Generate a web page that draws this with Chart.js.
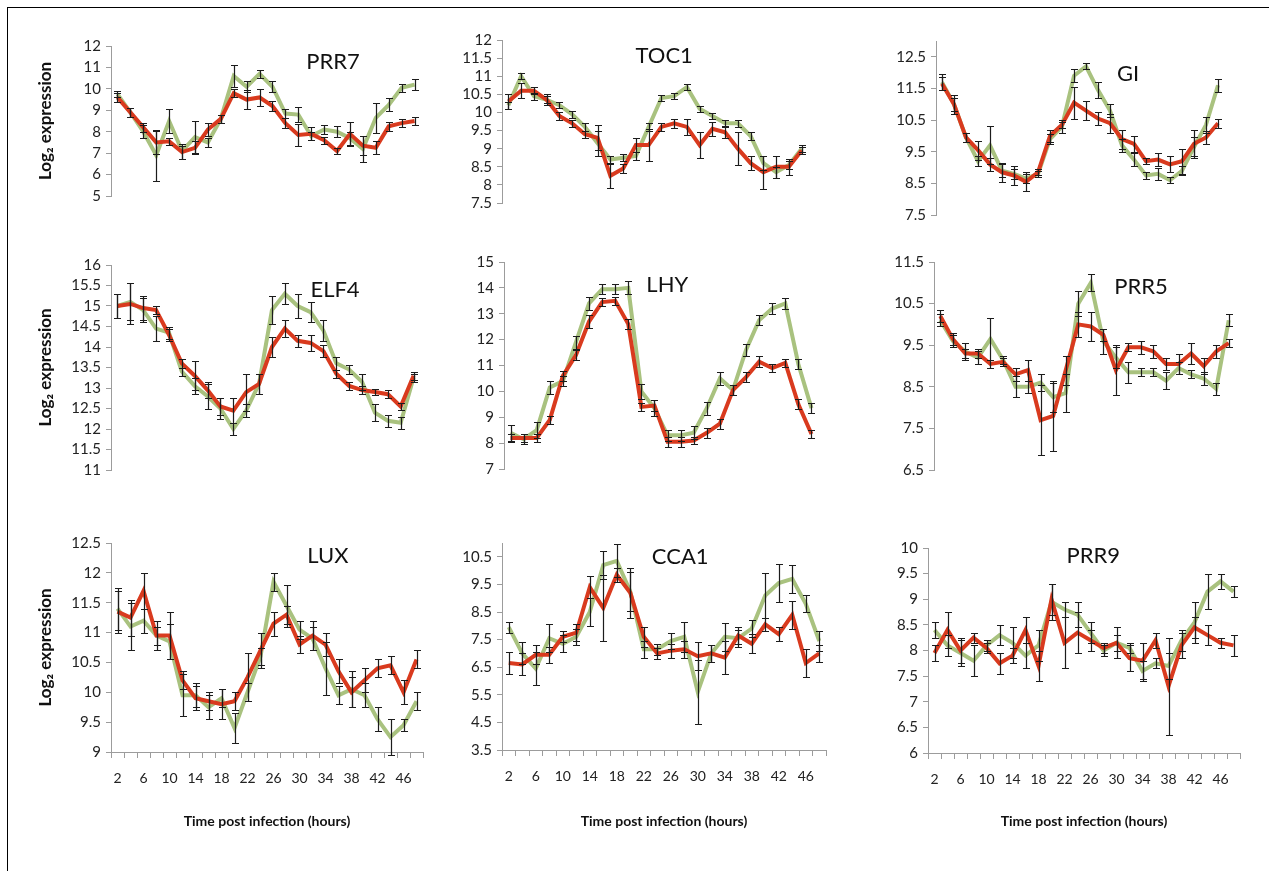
<!DOCTYPE html>
<html>
<head>
<meta charset="utf-8">
<script src="https://cdn.jsdelivr.net/npm/chart.js@4.4.1/dist/chart.umd.min.js"></script>
<style>
  body { margin: 0; background: #fff; width: 1269px; height: 871px; position: relative; overflow: hidden; }
  #frame { position: absolute; left: 7px; top: 7px; right: 0; bottom: 0; border-left: 1px solid #000; border-top: 1px solid #000; }
  .panel { position: absolute; }
</style>
</head>
<body>
<div id="frame"></div>
<script>
const hours = [2, 4, 6, 8, 10, 12, 14, 16, 18, 20, 22, 24, 26, 28, 30, 32, 34, 36, 38, 40, 42, 44, 46, 48];

// PRR7
const prr7Ticks = [5, 6, 7, 8, 9, 10, 11, 12];
const prr7Green = [9.75, 8.9, 8.0, 6.9, 8.5, 7.1, 7.75, 7.5, 8.6, 10.6, 10.1, 10.7, 10.1, 8.85, 8.8, 7.8, 8.1, 8.0, 7.7, 7.2, 8.65, 9.25, 10.05, 10.2];
const prr7GreenErr = [0.15, 0.2, 0.3, 1.2, 0.55, 0.35, 0.75, 0.2, 0.2, 0.5, 0.25, 0.2, 0.25, 0.2, 0.35, 0.2, 0.2, 0.25, 0.3, 0.6, 0.7, 0.3, 0.2, 0.25];
const prr7Red = [9.6, 8.9, 8.2, 7.5, 7.55, 7.05, 7.25, 8.1, 8.6, 9.8, 9.5, 9.6, 9.2, 8.4, 7.85, 7.9, 7.6, 7.1, 7.9, 7.35, 7.25, 8.25, 8.4, 8.5];
const prr7RedErr = [0.2, 0.2, 0.2, 0.55, 0.15, 0.3, 0.3, 0.3, 0.2, 0.2, 0.45, 0.4, 0.25, 0.25, 0.5, 0.3, 0.15, 0.15, 0.55, 0.45, 0.3, 0.2, 0.2, 0.2];

// TOC1
const toc1Ticks = [7.5, 8, 8.5, 9, 9.5, 10, 10.5, 11, 11.5, 12];
const toc1Green = [10.2, 11.0, 10.45, 10.35, 10.2, 9.95, 9.6, 9.15, 8.7, 8.75, 8.8, 9.6, 10.4, 10.45, 10.7, 10.1, 9.9, 9.7, 9.7, 9.35, 8.6, 8.35, 8.55, 9.0];
const toc1GreenErr = [0.1, 0.08, 0.1, 0.1, 0.08, 0.1, 0.1, 0.35, 0.1, 0.1, 0.1, 0.1, 0.08, 0.08, 0.08, 0.08, 0.08, 0.08, 0.1, 0.1, 0.2, 0.15, 0.1, 0.1];
const toc1Red = [10.3, 10.6, 10.6, 10.35, 9.9, 9.7, 9.4, 9.3, 8.25, 8.45, 9.1, 9.1, 9.6, 9.7, 9.6, 9.1, 9.55, 9.45, 9.0, 8.6, 8.35, 8.5, 8.5, 8.95];
const toc1RedErr = [0.2, 0.2, 0.1, 0.15, 0.1, 0.1, 0.1, 0.35, 0.33, 0.12, 0.2, 0.43, 0.12, 0.12, 0.23, 0.35, 0.2, 0.15, 0.45, 0.2, 0.45, 0.3, 0.22, 0.1];

// GI
const giTicks = [7.5, 8.5, 9.5, 10.5, 11.5, 12.5];
const giGreen = [11.7, 11.0, 9.95, 9.2, 9.7, 8.9, 8.8, 8.65, 8.8, 9.9, 10.3, 11.9, 12.2, 11.45, 10.8, 9.7, 9.25, 8.75, 8.8, 8.6, 8.9, 9.65, 10.35, 11.6];
const giGreenErr = [0.25, 0.2, 0.15, 0.15, 0.6, 0.2, 0.15, 0.15, 0.1, 0.15, 0.2, 0.2, 0.1, 0.25, 0.2, 0.2, 0.2, 0.1, 0.2, 0.1, 0.15, 0.3, 0.25, 0.2];
const giRed = [11.65, 11.0, 9.95, 9.55, 9.1, 8.85, 8.75, 8.55, 8.85, 10.0, 10.35, 11.05, 10.8, 10.55, 10.4, 9.9, 9.75, 9.2, 9.25, 9.1, 9.2, 9.75, 9.95, 10.4];
const giRedErr = [0.2, 0.3, 0.15, 0.3, 0.2, 0.3, 0.3, 0.3, 0.1, 0.2, 0.1, 0.5, 0.3, 0.2, 0.3, 0.3, 0.25, 0.1, 0.2, 0.25, 0.4, 0.45, 0.2, 0.15];

// ELF4
const elf4Ticks = [11, 11.5, 12, 12.5, 13, 13.5, 14, 14.5, 15, 15.5, 16];
const elf4Green = [15.0, 15.1, 14.9, 14.45, 14.35, 13.4, 13.05, 12.8, 12.5, 12.0, 12.45, 13.1, 14.9, 15.3, 15.0, 14.85, 14.4, 13.6, 13.45, 13.15, 12.4, 12.2, 12.15, 13.25];
const elf4GreenErr = [0.3, 0.45, 0.3, 0.3, 0.15, 0.1, 0.2, 0.3, 0.25, 0.15, 0.15, 0.25, 0.35, 0.25, 0.3, 0.25, 0.25, 0.15, 0.1, 0.2, 0.2, 0.15, 0.15, 0.1];
const elf4Red = [15.0, 15.05, 14.95, 14.9, 14.3, 13.6, 13.3, 12.95, 12.55, 12.45, 12.9, 13.1, 14.0, 14.45, 14.15, 14.1, 13.9, 13.35, 13.05, 12.95, 12.9, 12.85, 12.55, 13.3];
const elf4RedErr = [0.3, 0.5, 0.3, 0.1, 0.15, 0.1, 0.35, 0.2, 0.2, 0.3, 0.45, 0.25, 0.25, 0.2, 0.15, 0.2, 0.15, 0.1, 0.1, 0.1, 0.08, 0.1, 0.08, 0.1];

// LHY
const lhyTicks = [7, 8, 9, 10, 11, 12, 13, 14, 15];
const lhyGreen = [8.4, 8.15, 8.5, 10.15, 10.4, 11.9, 13.4, 13.95, 13.95, 14.0, 10.0, 9.35, 8.3, 8.3, 8.4, 9.35, 10.5, 10.05, 11.6, 12.75, 13.2, 13.4, 11.05, 9.35];
const lhyGreenErr = [0.3, 0.2, 0.3, 0.25, 0.2, 0.25, 0.25, 0.2, 0.2, 0.25, 0.3, 0.3, 0.2, 0.2, 0.25, 0.25, 0.25, 0.2, 0.25, 0.2, 0.2, 0.2, 0.2, 0.2];
const lhyRed = [8.2, 8.2, 8.2, 8.9, 10.6, 11.4, 12.7, 13.45, 13.5, 12.6, 9.4, 9.45, 8.05, 8.05, 8.1, 8.4, 8.75, 10.05, 10.55, 11.15, 10.9, 11.1, 9.5, 8.35];
const lhyRedErr = [0.15, 0.15, 0.15, 0.15, 0.2, 0.2, 0.25, 0.15, 0.15, 0.2, 0.15, 0.2, 0.2, 0.2, 0.15, 0.2, 0.2, 0.2, 0.2, 0.2, 0.15, 0.15, 0.2, 0.15];

// PRR5
const prr5Ticks = [6.5, 7.5, 8.5, 9.5, 10.5, 11.5];
const prr5Green = [10.1, 9.6, 9.35, 9.2, 9.65, 9.15, 8.5, 8.5, 8.6, 8.25, 8.35, 10.5, 11.0, 9.6, 9.2, 8.85, 8.85, 8.85, 8.65, 8.95, 8.8, 8.7, 8.45, 10.1];
const prr5GreenErr = [0.15, 0.15, 0.2, 0.15, 0.5, 0.1, 0.25, 0.15, 0.2, 0.35, 0.45, 0.3, 0.2, 0.3, 0.25, 0.25, 0.1, 0.1, 0.2, 0.15, 0.1, 0.15, 0.15, 0.15];
const prr5Red = [10.2, 9.65, 9.3, 9.3, 9.05, 9.1, 8.8, 8.9, 7.7, 7.8, 8.9, 10.0, 9.95, 9.75, 8.9, 9.45, 9.45, 9.35, 9.05, 9.05, 9.3, 9.0, 9.35, 9.55];
const prr5RedErr = [0.15, 0.15, 0.1, 0.1, 0.1, 0.1, 0.15, 0.25, 0.85, 0.85, 0.35, 0.3, 0.35, 0.15, 0.6, 0.1, 0.15, 0.15, 0.15, 0.25, 0.25, 0.2, 0.15, 0.1];

// LUX
const luxTicks = [9, 9.5, 10, 10.5, 11, 11.5, 12, 12.5];
const luxGreen = [11.4, 11.1, 11.2, 10.95, 10.85, 9.95, 9.95, 9.75, 9.9, 9.4, 10.0, 10.6, 11.85, 11.45, 11.05, 10.9, 10.4, 9.95, 10.05, 9.95, 9.55, 9.25, 9.45, 9.85];
const luxGreenErr = [0.35, 0.4, 0.2, 0.15, 0.3, 0.35, 0.2, 0.2, 0.15, 0.25, 0.15, 0.15, 0.15, 0.35, 0.15, 0.2, 0.45, 0.15, 0.3, 0.2, 0.2, 0.3, 0.1, 0.15];
const luxRed = [11.35, 11.25, 11.7, 10.95, 10.95, 10.2, 9.9, 9.85, 9.8, 9.85, 10.25, 10.7, 11.15, 11.3, 10.8, 10.95, 10.8, 10.35, 10.0, 10.2, 10.4, 10.45, 10.0, 10.55];
const luxRedErr = [0.35, 0.3, 0.3, 0.25, 0.4, 0.15, 0.2, 0.15, 0.25, 0.15, 0.4, 0.3, 0.2, 0.15, 0.15, 0.25, 0.2, 0.2, 0.25, 0.2, 0.15, 0.15, 0.2, 0.15];

// CCA1
const cca1Ticks = [3.5, 4.5, 5.5, 6.5, 7.5, 8.5, 9.5, 10.5];
const cca1Green = [7.95, 7.0, 6.45, 7.55, 7.35, 7.6, 8.5, 10.2, 10.35, 9.25, 7.15, 7.15, 7.45, 7.6, 5.6, 7.0, 7.6, 7.55, 7.9, 9.1, 9.55, 9.7, 8.8, 7.45];
const cca1GreenErr = [0.2, 0.4, 0.6, 0.5, 0.3, 0.3, 0.5, 0.5, 0.6, 0.7, 0.3, 0.2, 0.3, 0.55, 1.15, 0.3, 0.5, 0.3, 0.3, 0.8, 0.7, 0.5, 0.3, 0.35];
const cca1Red = [6.65, 6.6, 6.95, 6.95, 7.6, 7.75, 9.4, 8.65, 9.85, 9.2, 7.6, 7.0, 7.1, 7.15, 6.9, 7.0, 6.85, 7.65, 7.35, 8.05, 7.7, 8.4, 6.65, 7.0];
const cca1RedErr = [0.4, 0.4, 0.35, 0.3, 0.2, 0.3, 0.4, 1.2, 0.25, 0.9, 0.35, 0.2, 0.25, 0.3, 0.5, 0.3, 0.6, 0.3, 0.35, 0.25, 0.25, 0.5, 0.5, 0.3];

// PRR9
const prr9Ticks = [6, 6.5, 7, 7.5, 8, 8.5, 9, 9.5, 10];
const prr9Green = [8.4, 8.1, 7.95, 7.8, 8.1, 8.3, 8.15, 7.9, 8.1, 8.95, 8.8, 8.7, 8.35, 8.0, 8.15, 8.05, 7.6, 7.75, 7.7, 8.2, 8.55, 9.15, 9.35, 9.15];
const prr9GreenErr = [0.15, 0.2, 0.25, 0.3, 0.1, 0.2, 0.3, 0.25, 0.3, 0.35, 0.15, 0.25, 0.2, 0.1, 0.3, 0.1, 0.2, 0.1, 0.25, 0.2, 0.4, 0.35, 0.15, 0.1];
const prr9Red = [7.95, 8.4, 8.0, 8.25, 8.05, 7.75, 7.9, 8.4, 7.7, 9.0, 8.15, 8.35, 8.2, 8.05, 8.15, 7.85, 7.8, 8.2, 7.3, 8.1, 8.45, 8.3, 8.15, 8.1];
const prr9RedErr = [0.15, 0.35, 0.25, 0.1, 0.1, 0.2, 0.15, 0.25, 0.3, 0.3, 0.5, 0.4, 0.2, 0.1, 0.15, 0.25, 0.35, 0.15, 0.95, 0.25, 0.2, 0.2, 0.1, 0.2];

const GREEN = '#a9c27f';
const RED = '#d93a1e';
const AXIS = '#9c9c9c';
const TEXT = '#222';

// grid order: row by row, left to right
const panels = [
  { name: 'PRR7', ticks: prr7Ticks, max: 12, green: prr7Green, greenErr: prr7GreenErr, red: prr7Red, redErr: prr7RedErr },
  { name: 'TOC1', ticks: toc1Ticks, max: 12, green: toc1Green, greenErr: toc1GreenErr, red: toc1Red, redErr: toc1RedErr },
  { name: 'GI', ticks: giTicks, max: 13, green: giGreen, greenErr: giGreenErr, red: giRed, redErr: giRedErr },
  { name: 'ELF4', ticks: elf4Ticks, max: 16, green: elf4Green, greenErr: elf4GreenErr, red: elf4Red, redErr: elf4RedErr },
  { name: 'LHY', ticks: lhyTicks, max: 15, green: lhyGreen, greenErr: lhyGreenErr, red: lhyRed, redErr: lhyRedErr },
  { name: 'PRR5', ticks: prr5Ticks, max: 11.5, green: prr5Green, greenErr: prr5GreenErr, red: prr5Red, redErr: prr5RedErr },
  { name: 'LUX', ticks: luxTicks, max: 12.5, green: luxGreen, greenErr: luxGreenErr, red: luxRed, redErr: luxRedErr },
  { name: 'CCA1', ticks: cca1Ticks, max: 11, green: cca1Green, greenErr: cca1GreenErr, red: cca1Red, redErr: cca1RedErr },
  { name: 'PRR9', ticks: prr9Ticks, max: 10, green: prr9Green, greenErr: prr9GreenErr, red: prr9Red, redErr: prr9RedErr }
];

// plot area boxes [left, top, right, bottom] and gene label spot (fraction of plot area)
const layout = [
  { box: [111, 46, 421, 198], label: [0.716, 0.105] },
  { box: [502, 40, 808, 205], label: [0.53, 0.10] },
  { box: [936, 41, 1224, 217], label: [0.667, 0.19] },
  { box: [111, 265, 420, 472], label: [0.725, 0.12] },
  { box: [504, 262, 818, 471], label: [0.52, 0.11] },
  { box: [934, 262, 1235, 472], label: [0.688, 0.12] },
  { box: [111, 543, 423, 752], label: [0.695, 0.06] },
  { box: [502, 543, 826, 750], label: [0.55, 0.068] },
  { box: [928, 548, 1240, 753], label: [0.53, 0.04] }
];

// vertical error bars with caps, drawn over the lines
const errorBars = {
  id: 'errorBars',
  afterDatasetsDraw(chart) {
    const { ctx } = chart;
    const y = chart.scales.y;
    ctx.save();
    ctx.strokeStyle = '#1c1c1c';
    ctx.lineWidth = 1.2;
    chart.data.datasets.forEach((ds, di) => {
      const meta = chart.getDatasetMeta(di);
      meta.data.forEach((pt, i) => {
        const v = ds.data[i], e = ds.err[i];
        const x = Math.round(pt.x) + 0.5;
        const lo = Math.round(y.getPixelForValue(v - e)) + 0.5;
        const hi = Math.round(y.getPixelForValue(v + e)) + 0.5;
        ctx.beginPath();
        ctx.moveTo(x, lo); ctx.lineTo(x, hi);
        ctx.moveTo(x - 3.5, lo); ctx.lineTo(x + 3.5, lo);
        ctx.moveTo(x - 3.5, hi); ctx.lineTo(x + 3.5, hi);
        ctx.stroke();
      });
    });
    ctx.restore();
  }
};

// gene name written inside the plot area
const geneLabel = {
  id: 'geneLabel',
  afterDraw(chart, args, opts) {
    const { ctx, chartArea: a } = chart;
    ctx.save();
    ctx.font = '22px Lato';
    ctx.fillStyle = '#111';
    ctx.textAlign = 'center';
    ctx.textBaseline = 'middle';
    ctx.fillText(opts.text, a.left + opts.fx * (a.right - a.left), a.top + opts.fy * (a.bottom - a.top));
    ctx.restore();
  }
};

function makePanel(p, idx) {
  const row = Math.floor(idx / 3), col = idx % 3;
  const { box, label } = layout[idx];
  const lastRow = row === 2;
  const yw = col === 0 ? 76 : 60;
  const padTop = 14, padRight = 8, padBottom = 12;
  const xh = 830 - box[3];

  const div = document.createElement('div');
  div.className = 'panel';
  div.style.left = (box[0] - yw) + 'px';
  div.style.top = (box[1] - padTop) + 'px';
  div.style.width = (box[2] - box[0] + yw + padRight) + 'px';
  div.style.height = (box[3] - box[1] + padTop + (lastRow ? xh : padBottom)) + 'px';
  const canvas = document.createElement('canvas');
  div.appendChild(canvas);
  document.body.appendChild(div);

  new Chart(canvas, {
    type: 'line',
    data: {
      labels: hours,
      datasets: [
        { data: p.green, err: p.greenErr, borderColor: GREEN, borderWidth: 4, pointRadius: 0, tension: 0, order: 1 },
        { data: p.red, err: p.redErr, borderColor: RED, borderWidth: 4, pointRadius: 0, tension: 0, order: 0 }
      ]
    },
    options: {
      responsive: true,
      maintainAspectRatio: false,
      animation: false,
      events: [],
      layout: { padding: { top: padTop, right: padRight, bottom: lastRow ? 0 : padBottom, left: 0 } },
      plugins: {
        legend: { display: false },
        tooltip: { enabled: false },
        geneLabel: { text: p.name, fx: label[0], fy: label[1] }
      },
      scales: {
        x: {
          display: lastRow,
          offset: true,
          grid: { offset: true, drawOnChartArea: false, tickLength: 6, color: AXIS },
          border: { color: AXIS },
          ticks: {
            autoSkip: false, maxRotation: 0, padding: 12, color: TEXT,
            font: { family: 'Lato', size: 14 },
            callback: (v, i) => (i % 2 === 0 ? hours[i] : '')
          },
          title: {
            display: true, text: 'Time post infection (hours)', color: '#111',
            font: { family: 'Lato', size: 14, weight: 'bold' }, padding: 0
          },
          afterFit: s => { if (lastRow) s.height = xh; }
        },
        y: {
          min: p.ticks[0],
          max: p.max,
          afterBuildTicks: s => { s.ticks = p.ticks.map(v => ({ value: v })); },
          grid: { drawOnChartArea: false, tickLength: 5, color: AXIS },
          border: { color: AXIS },
          ticks: { autoSkip: false, padding: 5, color: TEXT, font: { family: 'Lato', size: 15 }, callback: v => String(v) },
          title: {
            display: col === 0, text: 'Log₂ expression', color: '#111',
            font: { family: 'Lato', size: 17, weight: 'bold' }, padding: 0
          },
          afterFit: s => { s.width = yw; }
        }
      }
    },
    plugins: [errorBars, geneLabel]
  });
}

panels.forEach(makePanel);
</script>
</body>
</html>
